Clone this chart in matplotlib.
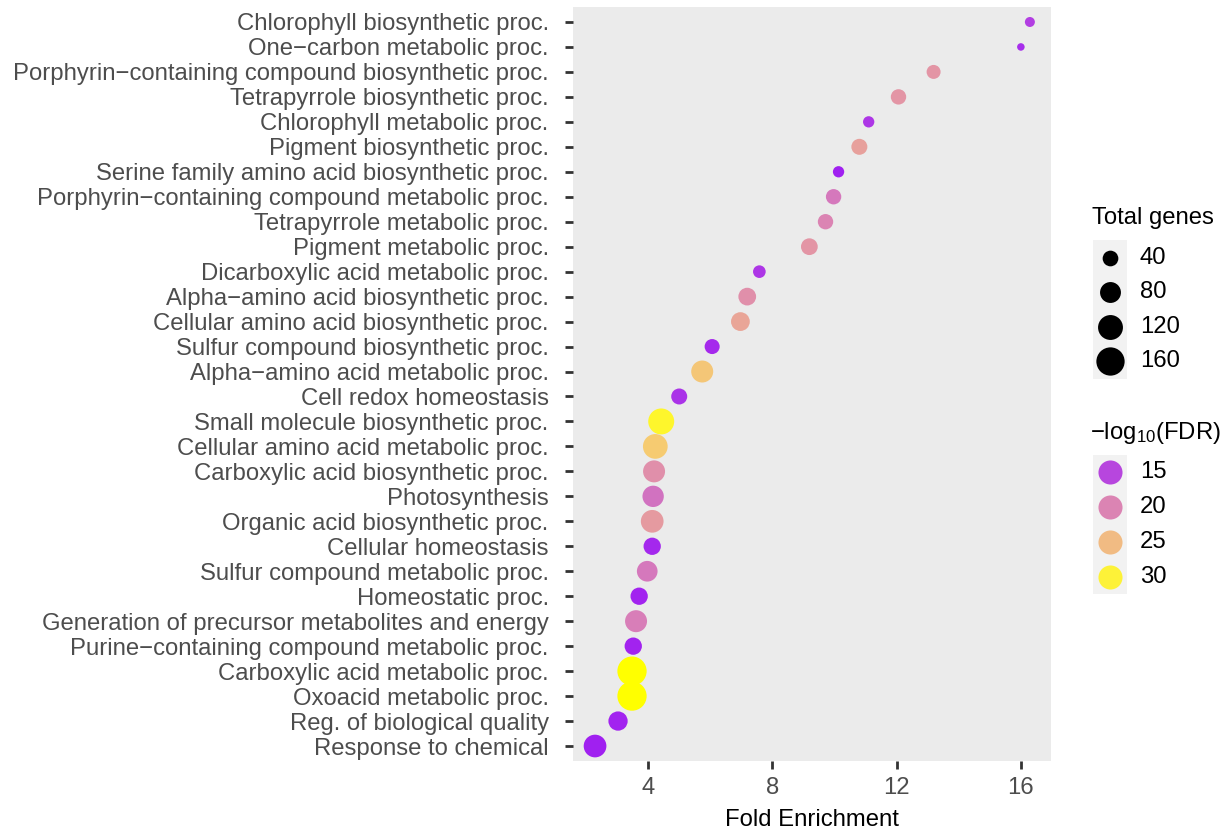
import numpy as np
import matplotlib
matplotlib.use("Agg")
import matplotlib.pyplot as plt
from matplotlib.colors import ListedColormap, Normalize
from matplotlib.patches import Rectangle

# GO terms, top to bottom
terms = [
    "Chlorophyll biosynthetic proc.",
    "One\u2212carbon metabolic proc.",
    "Porphyrin\u2212containing compound biosynthetic proc.",
    "Tetrapyrrole biosynthetic proc.",
    "Chlorophyll metabolic proc.",
    "Pigment biosynthetic proc.",
    "Serine family amino acid biosynthetic proc.",
    "Porphyrin\u2212containing compound metabolic proc.",
    "Tetrapyrrole metabolic proc.",
    "Pigment metabolic proc.",
    "Dicarboxylic acid metabolic proc.",
    "Alpha\u2212amino acid biosynthetic proc.",
    "Cellular amino acid biosynthetic proc.",
    "Sulfur compound biosynthetic proc.",
    "Alpha\u2212amino acid metabolic proc.",
    "Cell redox homeostasis",
    "Small molecule biosynthetic proc.",
    "Cellular amino acid metabolic proc.",
    "Carboxylic acid biosynthetic proc.",
    "Photosynthesis",
    "Organic acid biosynthetic proc.",
    "Cellular homeostasis",
    "Sulfur compound metabolic proc.",
    "Homeostatic proc.",
    "Generation of precursor metabolites and energy",
    "Purine\u2212containing compound metabolic proc.",
    "Carboxylic acid metabolic proc.",
    "Oxoacid metabolic proc.",
    "Reg. of biological quality",
    "Response to chemical",
]
fold_enrichment = [16.29, 16.0, 13.19, 12.06, 11.1, 10.8, 10.13, 9.97, 9.71, 9.19,
                   7.58, 7.19, 6.97, 6.06, 5.74, 5.0, 4.42, 4.23, 4.19, 4.16,
                   4.13, 4.13, 3.97, 3.71, 3.61, 3.52, 3.48, 3.48, 3.03, 2.29]
total_genes = [12, 5, 30, 38, 17, 42, 17, 38, 38, 47,
               23, 54, 62, 36, 90, 42, 132, 118, 90, 84,
               97, 51, 78, 51, 90, 51, 173, 173, 66, 97]
neg_log10_fdr = [14.5, 13.5, 21.5, 21.5, 14.0, 22.5, 12.8, 19.0, 20.0, 21.5,
                 14.0, 21.0, 23.0, 13.3, 26.0, 13.8, 30.5, 26.5, 21.0, 18.5,
                 22.0, 13.2, 19.0, 13.0, 19.5, 13.0, 31.3, 31.3, 13.0, 12.8]

size_breaks = [40, 80, 120, 160]
fdr_breaks = [15, 20, 25, 30]
x_ticks = [4, 8, 12, 16]

plt.rcParams['font.family'] = ['Liberation Sans', 'DejaVu Sans']
plt.rcParams['mathtext.fontset'] = 'custom'
plt.rcParams['mathtext.rm'] = 'Liberation Sans'

WHITE = np.array([0.95047, 1.0, 1.08883])
M = np.array([[0.4124, 0.3576, 0.1805],
              [0.2126, 0.7152, 0.0722],
              [0.0193, 0.1192, 0.9505]])


def srgb_to_lab(hexcol):
    c = np.array([int(hexcol[i:i + 2], 16) for i in (1, 3, 5)]) / 255.0
    lin = np.where(c <= 0.04045, c / 12.92, ((c + 0.055) / 1.055) ** 2.4)
    t = M @ lin / WHITE
    d = 6 / 29
    f = np.where(t > d ** 3, np.cbrt(t), t / (3 * d ** 2) + 4 / 29)
    return np.array([116 * f[1] - 16, 500 * (f[0] - f[1]), 200 * (f[1] - f[2])])


def lab_to_srgb(lab):
    d = 6 / 29
    fy = (lab[:, 0] + 16) / 116
    f = np.stack([fy + lab[:, 1] / 500, fy, fy - lab[:, 2] / 200], axis=1)
    t = np.where(f > d, f ** 3, 3 * d ** 2 * (f - 4 / 29)) * WHITE
    lin = np.clip(t @ np.linalg.inv(M).T, 0, None)
    rgb = np.where(lin <= 0.0031308, 12.92 * lin, 1.055 * lin ** (1 / 2.4) - 0.055)
    return np.clip(rgb, 0, 1)


def gradient_cmap(low, high, n=256):
    lo, hi = srgb_to_lab(low), srgb_to_lab(high)
    t = np.linspace(0, 1, n)[:, None]
    return ListedColormap(lab_to_srgb(lo + (hi - lo) * t))


def marker_area(v):
    # diameter grows with sqrt of gene count; scatter wants pt^2
    d_px = 3.1 + 1.99 * np.sqrt(np.asarray(v, dtype=float))
    return (d_px * 0.72) ** 2


cmap = gradient_cmap("#A020F0", "#FFFF00")
norm = Normalize(min(neg_log10_fdr), max(neg_log10_fdr))

W, H = 1229, 834
fig = plt.figure(figsize=(W / 100, H / 100), dpi=100)

ax = fig.add_axes([573 / W, 73 / H, 478 / W, 754 / H])
ax.set_facecolor("#EBEBEB")
ypos = np.arange(len(terms))
ax.scatter(fold_enrichment, ypos, s=marker_area(total_genes), c=neg_log10_fdr,
           cmap=cmap, norm=norm, linewidths=0, zorder=3)
ax.set_xlim(1.58, 16.97)
ax.set_ylim(len(terms) - 0.4, -0.6)
ax.set_yticks(ypos)
ax.set_yticklabels(terms)
ax.set_xticks(x_ticks)
for s in ax.spines.values():
    s.set_visible(False)
ax.tick_params(length=5.5, width=2, color="#333333", labelsize=17.2,
               labelcolor="#4D4D4D")
ax.tick_params(axis="y", pad=12)
ax.tick_params(axis="x", pad=6)
ax.set_xlabel("Fold Enrichment", fontsize=17.2, color="black", labelpad=7)

# legends drawn in pixel coordinates
leg = fig.add_axes([1080 / W, 1 - 610 / H, 149 / W, 410 / H])
leg.set_xlim(1080, 1229)
leg.set_ylim(610, 200)
leg.axis("off")

leg.text(1092, 218, "Total genes", fontsize=17.2, va="center", ha="left")
leg.add_patch(Rectangle((1093, 240), 34, 139, color="#F2F2F2", lw=0))
for i, b in enumerate(size_breaks):
    y = 258 + 34.3 * i
    leg.scatter(1110, y, s=marker_area(b), c="black", linewidths=0)
    leg.text(1140, y, str(b), fontsize=17.2, va="center", ha="left")

leg.text(1090, 433, r"$\mathregular{-log_{10}(FDR)}$", fontsize=17.2,
         va="center", ha="left")
leg.add_patch(Rectangle((1093, 455), 34, 139, color="#F2F2F2", lw=0))
for i, b in enumerate(fdr_breaks):
    y = 472 + 35 * i
    leg.scatter(1110, y, s=300, color=cmap(norm(b)), linewidths=0)
    leg.text(1140, y, str(b), fontsize=17.2, va="center", ha="left")

fig.savefig("out.png", dpi=100)
